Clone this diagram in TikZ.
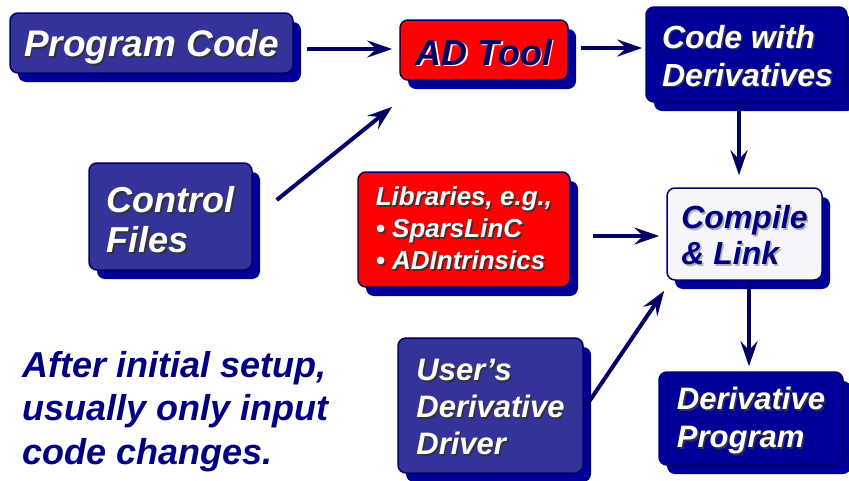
\documentclass[tikz,border=0pt]{standalone}
\usepackage{fontspec}
\setmainfont{Liberation Sans}
\usetikzlibrary{arrows.meta,shadows,calc}

\definecolor{boxblue}{HTML}{333399}
\definecolor{deepblue}{HTML}{000099}
\definecolor{edgeblue}{HTML}{000066}
\definecolor{shadeblue}{HTML}{000099}
\definecolor{inkblue}{HTML}{000080}
\definecolor{alertred}{HTML}{FF0000}
\definecolor{paleface}{HTML}{F6F6FA}
\colorlet{lblshade}{black}

% one line of text with an offset drop shadow behind it
\newcommand\lbl[1]{\makebox[0pt][l]{\kern1.6pt\raisebox{-1.6pt}{\color{lblshade}#1}}#1}

\tikzset{
  card/.style={rounded corners=8pt, draw=edgeblue, line width=1.5pt,
    inner sep=0pt,
    general shadow={shadow xshift=8pt, shadow yshift=-9pt, fill=shadeblue}},
  words/.style={inner sep=0pt, align=left},
  whitetext/.style={words, text=white, execute at begin node={\colorlet{lblshade}{black!80}}},
  navytext/.style={words, text=edgeblue, execute at begin node={\colorlet{lblshade}{white}}},
  paletext/.style={words, text=inkblue, execute at begin node={\colorlet{lblshade}{black!30}}},
  flow/.style={draw=edgeblue, line width=4pt,
    -{Stealth[length=25pt,width=17pt,inset=9pt]}},
}

\begin{document}
\begin{tikzpicture}[x=1pt,y=-1pt]
\useasboundingbox (0,0) rectangle (849,480);

% boxes
\node[card, fill=boxblue,   minimum width=283pt, minimum height=60pt]  (pc)      at (151.5,43)  {};
\node[card, fill=alertred,  minimum width=168pt, minimum height=60pt]  (adtool)  at (484,50)    {};
\node[card, fill=deepblue,  minimum width=201pt, minimum height=95pt]  (code)    at (746.5,54.5) {};
\node[card, fill=boxblue,   minimum width=163pt, minimum height=107pt] (ctrl)    at (170.5,216.5) {};
\node[card, fill=alertred,  minimum width=212pt, minimum height=115pt] (lib)     at (464,229.5) {};
\node[card, fill=paleface,  minimum width=155pt, minimum height=92pt]  (compile) at (744.5,234) {};
\node[card, fill=boxblue,   minimum width=185pt, minimum height=135pt] (driver)  at (490.5,405.5) {};
\node[card, fill=deepblue,  minimum width=184pt, minimum height=93pt]  (derprog) at (751,418.5) {};

% box captions
\node[whitetext, font=\bfseries\itshape\fontsize{37}{42}\selectfont]
  (pc-t) at ($(pc)+(0,5)$) {\lbl{Program Code}};
\node[navytext, font=\bfseries\itshape\fontsize{36}{42}\selectfont]
  (adtool-t) at ($(adtool)+(0,3)$) {\lbl{AD Tool}};
\node[whitetext, font=\bfseries\itshape\fontsize{32}{38}\selectfont]
  (code-t) at ($(code)+(1,2)$) {\lbl{Code with}\\\lbl{Derivatives}};
\node[whitetext, font=\bfseries\itshape\fontsize{36}{40}\selectfont]
  (ctrl-t) at ($(ctrl)+(0,4)$) {\lbl{Control}\\\lbl{Files}};
\node[whitetext, font=\bfseries\itshape\fontsize{26}{32}\selectfont]
  (lib-t) at (lib) {\lbl{Libraries, e.g.,}\\\lbl{\textbullet{} SparsLinC}\\\lbl{\textbullet{} ADIntrinsics}};
\node[paletext, font=\bfseries\itshape\fontsize{32}{36}\selectfont]
  (compile-t) at ($(compile)+(0,2)$) {\lbl{Compile}\\\lbl{\& Link}};
\node[whitetext, font=\bfseries\itshape\fontsize{31}{37}\selectfont]
  (driver-t) at ($(driver)+(0,2.5)$) {\lbl{User’s}\\\lbl{Derivative}\\\lbl{Driver}};
\node[whitetext, font=\bfseries\itshape\fontsize{31}{38}\selectfont]
  (derprog-t) at ($(derprog)+(0,3)$) {\lbl{Derivative}\\\lbl{Program}};

% note
\node[words, anchor=north west, text=inkblue,
      font=\bfseries\itshape\fontsize{36}{43.5}\selectfont]
  (note) at (22,351) {After initial setup,\\usually only input\\code changes.};

% connectors
\draw[flow] ($(pc.east)+(13,6)$) -- ($(adtool.west)+(-7,-1)$);
\draw[flow] ($(adtool.east)+(12,-2)$) -- ($(code.west)+(-3,-6.5)$);
\draw[flow] ($(ctrl.east)+(24,-16.5)$) -- ($(adtool.south west)+(-7,26)$);
\draw[flow] ($(code.south)+(-7.5,0)$) -- ($(compile.north)+(-5.5,-12)$);
\draw[flow] ($(lib.east)+(22,6.5)$) -- ($(compile.west)+(-7,2)$);
\draw[flow] ($(driver.east)+(2,1)$) -- ($(compile.south west)+(-2,10)$);
\draw[flow] ($(compile.south)+(4.5,0)$) -- ($(derprog.north)+(-2,-5)$);
\end{tikzpicture}
\end{document}
